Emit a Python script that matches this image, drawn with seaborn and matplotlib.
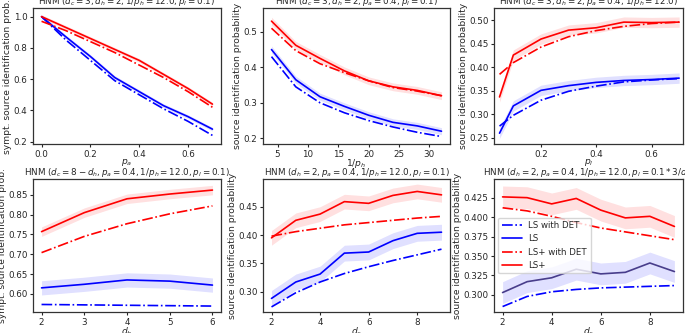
import numpy as np
import pandas as pd
import matplotlib
matplotlib.use("Agg")
import matplotlib.pyplot as plt
from matplotlib.ticker import MultipleLocator
import seaborn as sns

sns.set_style("ticks")
plt.rcParams['font.family'] = ['DejaVu Sans']

# ---------------- data ----------------
# Panel 1: x = p_a
p1_x = [0.0, 0.1, 0.2, 0.3, 0.4, 0.5, 0.6, 0.7]
p1_ls_det = [1.0, 0.85, 0.72, 0.59, 0.50, 0.41, 0.33, 0.24]
p1_ls = [1.0, 0.87, 0.745, 0.61, 0.52, 0.43, 0.36, 0.28]
p1_lsp_det = [0.97, 0.91, 0.84, 0.77, 0.69, 0.61, 0.52, 0.42]
p1_lsp = [1.0, 0.93, 0.86, 0.79, 0.72, 0.63, 0.54, 0.44]

# Panel 2: x = 1/p_h
p2_x = [4, 8, 12, 16, 20, 24, 28, 32]
p2_ls_det = [0.43, 0.345, 0.30, 0.272, 0.25, 0.232, 0.217, 0.205]
p2_ls = [0.45, 0.365, 0.317, 0.29, 0.265, 0.245, 0.235, 0.22]
p2_lsp_det = [0.51, 0.447, 0.41, 0.385, 0.362, 0.343, 0.333, 0.32]
p2_lsp = [0.53, 0.462, 0.425, 0.39, 0.362, 0.345, 0.335, 0.32]

# Panel 3: x = p_l
p3_x = [0.05, 0.1, 0.2, 0.3, 0.4, 0.5, 0.6, 0.7]
p3_ls_det = [0.275, 0.298, 0.33, 0.349, 0.36, 0.369, 0.373, 0.376]
p3_ls = [0.26, 0.318, 0.351, 0.361, 0.368, 0.372, 0.374, 0.377]
p3_lsp_det = [0.385, 0.41, 0.443, 0.465, 0.478, 0.487, 0.493, 0.496]
p3_lsp = [0.337, 0.426, 0.46, 0.479, 0.484, 0.496, 0.495, 0.496]

# Panel 4: x = d_h
p4_x = [2, 3, 4, 5, 6]
p4_ls_det = [0.573, 0.572, 0.571, 0.570, 0.569]
p4_ls = [0.615, 0.624, 0.635, 0.632, 0.622]
p4_lsp_det = [0.704, 0.745, 0.777, 0.802, 0.822]
p4_lsp = [0.757, 0.805, 0.84, 0.852, 0.862]

# Panel 5: x = d_c
p5_x = [2, 3, 4, 5, 6, 7, 8, 9]
p5_ls_det = [0.273, 0.298, 0.317, 0.332, 0.344, 0.355, 0.365, 0.375]
p5_ls = [0.288, 0.317, 0.331, 0.368, 0.37, 0.39, 0.403, 0.405]
p5_lsp_det = [0.398, 0.406, 0.412, 0.418, 0.422, 0.426, 0.43, 0.433]
p5_lsp = [0.395, 0.426, 0.437, 0.459, 0.456, 0.47, 0.477, 0.471]

# Panel 6: x = d_c
p6_x = [2, 3, 4, 5, 6, 7, 8, 9]
p6_ls_det = [0.285, 0.298, 0.304, 0.307, 0.309, 0.310, 0.311, 0.312]
p6_ls = [0.303, 0.317, 0.322, 0.333, 0.327, 0.329, 0.341, 0.330]
p6_lsp_det = [0.412, 0.408, 0.401, 0.393, 0.386, 0.381, 0.376, 0.371]
p6_lsp = [0.426, 0.425, 0.417, 0.424, 0.409, 0.399, 0.401, 0.388]

# confidence band half-widths (LS, LS+) per panel
band_ls = [0.012, 0.010, 0.011, 0.018, 0.014, 0.014]
band_lsp = [0.012, 0.011, 0.011, 0.012, 0.013, 0.014]

titles = [
    r"HNM ($d_c = 3, d_h = 2, 1/p_h = 12.0, p_l = 0.1$)",
    r"HNM ($d_c = 3, d_h = 2, p_a = 0.4, p_l = 0.1$)",
    r"HNM ($d_c = 3, d_h = 2, p_a = 0.4, 1/p_h = 12.0$)",
    r"HNM ($d_c = 8 - d_h, p_a = 0.4, 1/p_h = 12.0, p_l = 0.1$)",
    r"HNM ($d_h = 2, p_a = 0.4, 1/p_h = 12.0, p_l = 0.1$)",
    r"HNM ($d_h = 2, p_a = 0.4, 1/p_h = 12.0, p_l = 0.1*3/d_c$)",
]
xlabels = [r"$p_a$", r"$1/p_h$", r"$p_l$", r"$d_h$", r"$d_c$", r"$d_c$"]
ylabels = ["sympt. source identification prob.", "source identification probability",
           "source identification probability", "sympt. source identification prob.",
           "source identification probability", "source identification probability"]

panels = [
    (p1_x, p1_ls_det, p1_ls, p1_lsp_det, p1_lsp),
    (p2_x, p2_ls_det, p2_ls, p2_lsp_det, p2_lsp),
    (p3_x, p3_ls_det, p3_ls, p3_lsp_det, p3_lsp),
    (p4_x, p4_ls_det, p4_ls, p4_lsp_det, p4_lsp),
    (p5_x, p5_ls_det, p5_ls, p5_lsp_det, p5_lsp),
    (p6_x, p6_ls_det, p6_ls, p6_lsp_det, p6_lsp),
]

# axis ranges
ylims = [(0.185, 1.055), (0.184, 0.567), (0.237, 0.526),
         (0.554, 0.890), (0.264, 0.499), (0.278, 0.449)]
xlims = [None, None, (0.03, 0.714), None, None, None]
xsteps = [0.2, 5, 0.2, 1, 2, 2]

# ---------------- layout ----------------
W, H = 685, 333
fig = plt.figure(figsize=(W / 100, H / 100), dpi=100)
lefts = [33, 263, 494]
rights = [221, 450, 683]
rows = [(8, 144), (179, 312)]

fs = 6.3
for i, (x, ls_det, ls, lsp_det, lsp) in enumerate(panels):
    r, c = divmod(i, 3)
    top, bot = rows[r]
    ax = fig.add_axes([lefts[c] / W, 1 - bot / H, (rights[c] - lefts[c]) / W, (bot - top) / H])
    ls_color = "darkslateblue" if i == 5 else "blue"
    df = pd.DataFrame({"x": x, "LS with DET": ls_det, "LS": ls,
                       "LS+ with DET": lsp_det, "LS+": lsp})
    sns.lineplot(data=df, x="x", y="LS with DET", ax=ax, color="blue", linestyle="-.",
                 lw=1.2, label="LS with DET")
    sns.lineplot(data=df, x="x", y="LS", ax=ax, color=ls_color, linestyle="-",
                 lw=1.2, label="LS")
    ax.fill_between(df["x"], df["LS"] - band_ls[i], df["LS"] + band_ls[i],
                    color="blue", alpha=0.12, lw=0)
    sns.lineplot(data=df, x="x", y="LS+ with DET", ax=ax, color="red", linestyle="-.",
                 lw=1.2, label="LS+ with DET")
    sns.lineplot(data=df, x="x", y="LS+", ax=ax, color="red", linestyle="-",
                 lw=1.2, label="LS+")
    ax.fill_between(df["x"], df["LS+"] - band_lsp[i], df["LS+"] + band_lsp[i],
                    color="red", alpha=0.12, lw=0)
    ax.set_ylim(*ylims[i])
    if xlims[i] is not None:
        ax.set_xlim(*xlims[i])
    ax.xaxis.set_major_locator(MultipleLocator(xsteps[i]))
    ax.set_title(titles[i], fontsize=fs, pad=0.8)
    ax.set_xlabel(xlabels[i], fontsize=6.6, labelpad=-1)
    ax.set_ylabel(ylabels[i], fontsize=6.6, labelpad=1)
    ax.tick_params(labelsize=fs, length=2.5, pad=1.5)
    for s in ax.spines.values():
        s.set_color("#333333")
        s.set_linewidth(0.9)
    if i == 5:
        leg = ax.legend(loc="center left", fontsize=6.2, frameon=True, handlelength=2.3)
        leg.legend_handles[1].set_color("blue")
    else:
        ax.get_legend().remove()

fig.savefig("out.png", dpi=100)
